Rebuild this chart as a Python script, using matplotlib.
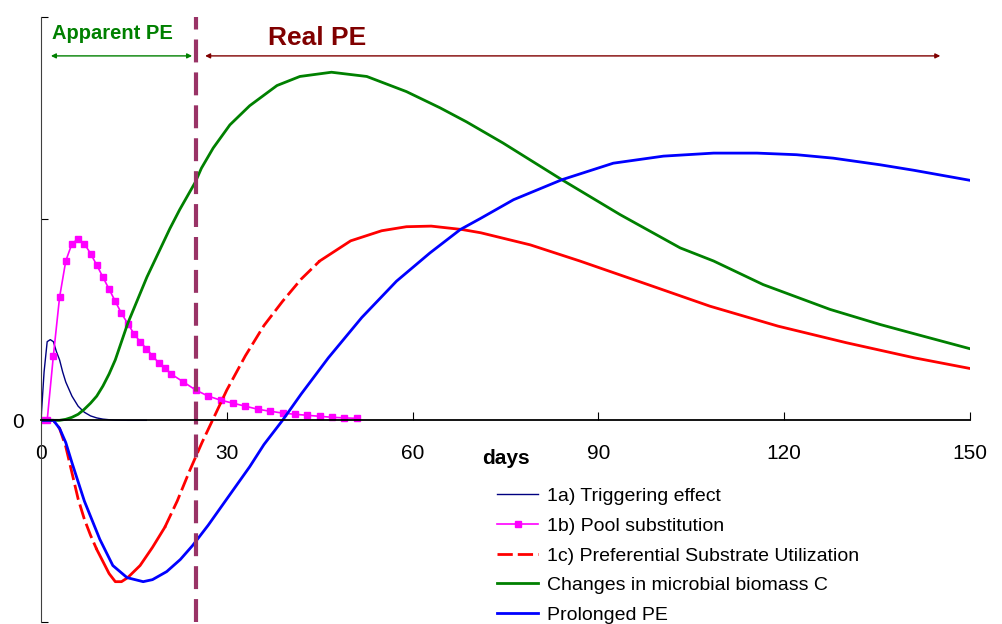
import numpy as np
import matplotlib
matplotlib.use("Agg")
import matplotlib.pyplot as plt

plt.rcParams['font.family'] = ['Liberation Sans', 'DejaVu Sans']

# 1a) triggering effect
trig_day = [0, 0.5, 1, 1.5, 2, 2.5, 3, 3.5, 4, 5, 6, 7, 8, 9, 10, 11, 12, 14, 17]
trig_val = [0, 0.24, 0.39, 0.40, 0.39, 0.34, 0.30, 0.24, 0.19, 0.12, 0.07, 0.04,
            0.022, 0.012, 0.006, 0.003, 0.001, 0, 0]

# 1b) pool substitution
pool_day = list(range(0, 22)) + list(range(23, 52, 2))
pool_val = [0, 0, 0.32, 0.61, 0.79, 0.876, 0.90, 0.876, 0.827, 0.77, 0.71, 0.65,
            0.59, 0.53, 0.48, 0.43, 0.39, 0.356, 0.32, 0.285, 0.26, 0.23,
            0.19, 0.15, 0.12, 0.10, 0.085, 0.07, 0.055, 0.045, 0.036, 0.03,
            0.025, 0.02, 0.015, 0.012, 0.01]

# 1c) preferential substrate utilization
psu_day = [0, 2, 3, 4, 5, 6, 7, 8, 9, 10, 11, 12, 13, 14, 16, 18, 20, 22, 24, 26,
           28, 30, 33, 36, 39, 42, 45, 50, 55, 59, 63, 68, 71, 79, 87, 98, 108,
           119, 130, 141, 150]
psu_val = [0, 0, -0.04, -0.13, -0.26, -0.39, -0.49, -0.57, -0.64, -0.70, -0.76,
           -0.80, -0.80, -0.78, -0.72, -0.63, -0.53, -0.40, -0.25, -0.11, 0.02,
           0.15, 0.32, 0.47, 0.59, 0.70, 0.79, 0.89, 0.94, 0.96, 0.963, 0.946,
           0.93, 0.87, 0.79, 0.673, 0.566, 0.467, 0.385, 0.31, 0.257]

# microbial biomass C
mbc_day = [0, 3, 4, 5, 6, 7, 8, 9, 10, 11, 12, 14, 17.1, 20.8, 22.4, 24.9, 25.9,
           27.8, 30.5, 33.7, 38.1, 41.8, 46.9, 52.6, 59, 64.4, 68.7, 74.6, 84.1,
           93.5, 103.2, 108.6, 116.6, 127.4, 135.5, 140.9, 150]
mbc_val = [0, 0, 0.005, 0.015, 0.03, 0.055, 0.085, 0.12, 0.17, 0.23, 0.30, 0.48,
           0.71, 0.95, 1.045, 1.18, 1.25, 1.35, 1.465, 1.56, 1.66, 1.705, 1.726,
           1.705, 1.63, 1.55, 1.48, 1.375, 1.193, 1.02, 0.855, 0.79, 0.673,
           0.55, 0.475, 0.43, 0.355]

# prolonged PE
ppe_day = [0, 2, 3, 4, 5, 7, 9.5, 11.6, 13.9, 16.5, 18, 20.3, 22.5, 24.5, 27, 30,
           33.7, 36, 39, 42, 46.4, 51.8, 57.4, 62.8, 67.7, 70.9, 76.3, 84.1,
           92.4, 100.5, 108.6, 115.6, 122, 127.9, 135.5, 140.9, 150]
ppe_val = [0, 0, -0.04, -0.11, -0.21, -0.40, -0.59, -0.72, -0.78, -0.80, -0.79,
           -0.75, -0.69, -0.62, -0.52, -0.39, -0.23, -0.12, 0.0, 0.13, 0.31,
           0.51, 0.69, 0.83, 0.946, 1.0, 1.094, 1.193, 1.275, 1.31, 1.325,
           1.325, 1.317, 1.30, 1.267, 1.24, 1.19]

split_day = 25
xticks = [30, 60, 90, 120, 150]

fig = plt.figure(figsize=(10.02, 6.24), dpi=100)
ax = fig.add_axes([0.0409, 0.0032, 0.9272, 0.9696])

ax.plot(trig_day, trig_val, color='#000080', lw=1.0, label='1a) Triggering effect')
ax.plot(pool_day, pool_val, color='#FF00FF', lw=1.2, marker='s', markersize=3.7,
        label='1b) Pool substitution')

# the PSU line is dashed only where it is steep, like in the original
d = np.array(psu_day, dtype=float)
v = np.array(psu_val)
dash = (0, (5.5, 1.8))
parts = [(0, 9, dash), (9, 20, '-'), (20, 45, dash), (45, 150, '-')]
for i, (a, b, ls) in enumerate(parts):
    m = (d >= a) & (d <= b)
    ax.plot(d[m], v[m], color='#FF0000', lw=2, linestyle=ls,
            label='1c) Preferential Substrate Utilization' if i == 0 else None)

ax.plot(mbc_day, mbc_val, color='#008000', lw=2, label='Changes in microbial biomass C')
ax.plot(ppe_day, ppe_val, color='#0000FF', lw=2, label='Prolonged PE')

ax.axvline(split_day, color='#993366', lw=3, linestyle=(0, (5.5, 2.4)))

ax.annotate('', xy=(1.6, 1.807), xytext=(24.4, 1.807),
            arrowprops=dict(arrowstyle='<|-|>', color='#008000', lw=1.0,
                            mutation_scale=7, shrinkA=0, shrinkB=0))
ax.annotate('', xy=(26.5, 1.807), xytext=(145.2, 1.807),
            arrowprops=dict(arrowstyle='<|-|>', color='#800000', lw=1.0,
                            mutation_scale=7, shrinkA=0, shrinkB=0))
ax.text(1.8, 1.92, 'Apparent PE', color='#008000', fontsize=14.5,
        fontweight='bold', va='center', ha='left')
ax.text(36.6, 1.896, 'Real PE', color='#800000', fontsize=19,
        fontweight='bold', va='center', ha='left')
ax.text(75, -0.19, 'days', fontsize=15, fontweight='bold', ha='center', va='center')

ax.set_xlim(0, 150)
ax.set_ylim(-1, 2)
ax.spines['top'].set_visible(False)
ax.spines['right'].set_visible(False)
ax.spines['bottom'].set_position(('data', 0))
ax.spines['bottom'].set_linewidth(1.3)
ax.spines['left'].set_color('#404040')
ax.set_xticks([0] + xticks)
ax.set_xticklabels(['0'] + [str(t) for t in xticks])
ax.set_yticks([-1, 0, 1, 2])
ax.set_yticklabels(['', '0', '', ''])
ax.tick_params(axis='x', direction='in', length=6, pad=17, labelsize=15)
ax.tick_params(axis='y', direction='in', length=5, pad=12, labelsize=15)

ax.legend(loc='upper left', bbox_to_anchor=(0.491, 0.222), frameon=False,
          fontsize=14, handlelength=2.1, handletextpad=0.45, labelspacing=0.62,
          borderpad=0, borderaxespad=0)

fig.savefig('out.png', dpi=100)
